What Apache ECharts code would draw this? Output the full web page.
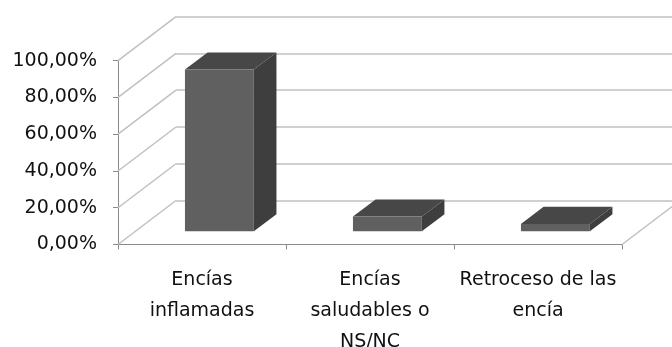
<!DOCTYPE html>
<html>
<head>
<meta charset="utf-8">
<script src="https://cdn.jsdelivr.net/npm/echarts@6/dist/echarts.min.js"></script>
<style>
html,body{margin:0;padding:0;background:#fff;}
#chart{width:672px;height:347px;}
</style>
</head>
<body>
<div id="chart"></div>
<script>
var categories = ['Encías\ninflamadas', 'Encías\nsaludables o\nNS/NC', 'Retroceso de las\nencía'];
var values = [0.88, 0.08, 0.04];
var yTicks = [0, 0.2, 0.4, 0.6, 0.8, 1];
var yTickLabels = ['0,00%', '20,00%', '40,00%', '60,00%', '80,00%', '100,00%'];

// depth vector (style constants)
var DX = 58, DY = -44;
var F0 = 0.30, FD = 0.39, BARW = 0.41;
var GRID_COL = '#c0c0c0';
var AXIS_COL = '#8a8a8a';
var FONT = 'DejaVu Sans';

var chart = echarts.init(document.getElementById('chart'), null, {renderer: 'canvas'});

var front = {left: 118, right: 50, top: 60.7, bottom: 102.5};
var back = {left: front.left + DX, right: front.right - DX, top: front.top + DY, bottom: front.bottom - DY};

var diagData = yTicks.map(function (v) { return [0, v, -1]; });
diagData.push([categories.length - 1, 0, 1]);

function labelFor(v) {
  var i = yTicks.findIndex(function (t) { return Math.abs(t - v) < 1e-9; });
  return i >= 0 ? yTickLabels[i] : '';
}

var option = {
  animation: false,
  backgroundColor: '#ffffff',
  grid: [
    {left: front.left, right: front.right, top: front.top, bottom: front.bottom, containLabel: false, outerBoundsMode: 'none'},
    {left: back.left, right: back.right, top: back.top, bottom: back.bottom, containLabel: false, outerBoundsMode: 'none'}
  ],
  xAxis: [
    {
      type: 'category', gridIndex: 0, data: categories, boundaryGap: true,
      axisLine: {show: true, lineStyle: {color: AXIS_COL, width: 1}},
      axisTick: {show: true, length: 5, alignWithLabel: false, lineStyle: {color: AXIS_COL}},
      axisLabel: {interval: 0, margin: 20, fontFamily: FONT, fontSize: 19, lineHeight: 31, color: '#111'},
      splitLine: {show: false}
    },
    {
      type: 'category', gridIndex: 1, data: categories, show: false
    }
  ],
  yAxis: [
    {
      type: 'value', gridIndex: 0, min: 0, max: 1, interval: 0.2,
      axisLine: {show: true, lineStyle: {color: AXIS_COL, width: 1}},
      axisTick: {show: true, length: 5, lineStyle: {color: AXIS_COL}},
      axisLabel: {margin: 21, fontFamily: FONT, fontSize: 19, color: '#111', padding: [5, 0, 0, 0], formatter: labelFor},
      splitLine: {show: false}
    },
    {
      type: 'value', gridIndex: 1, min: 0, max: 1, interval: 0.2,
      axisLine: {show: false}, axisTick: {show: false}, axisLabel: {show: false},
      splitLine: {show: true, lineStyle: {color: GRID_COL, width: 1.5}}
    }
  ],
  series: [
    {
      type: 'custom', xAxisIndex: 0, yAxisIndex: 0, clip: false, z: 1,
      data: diagData,
      renderItem: function (params, api) {
        var p = api.coord([api.value(0), api.value(1)]);
        var band = api.size([1, 0])[0];
        var x = p[0] + api.value(2) * band / 2;
        return {
          type: 'line',
          shape: {x1: x, y1: p[1], x2: x + DX, y2: p[1] + DY},
          style: {stroke: GRID_COL, lineWidth: 1.5}
        };
      }
    },
    {
      type: 'custom', xAxisIndex: 0, yAxisIndex: 0, clip: false, z: 5,
      data: values.map(function (v, i) { return [i, v]; }),
      renderItem: function (params, api) {
        var top = api.coord([api.value(0), api.value(1)]);
        var base = api.coord([api.value(0), 0]);
        var band = api.size([1, 0])[0];
        var w = band * BARW;
        var x0 = top[0] - w / 2 + F0 * DX;
        var x1 = x0 + w;
        var yt = top[1] + F0 * DY;
        var yb = base[1] + F0 * DY;
        var dx = FD * DX, dy = FD * DY;
        return {
          type: 'group',
          children: [
            {type: 'polygon', shape: {points: [[x1, yt], [x1 + dx, yt + dy], [x1 + dx, yb + dy], [x1, yb]]},
              style: {fill: '#3e3e3e'}},
            {type: 'polygon', shape: {points: [[x0, yt], [x0 + dx, yt + dy], [x1 + dx, yt + dy], [x1, yt]]},
              style: {fill: '#474747'}},
            {type: 'rect', shape: {x: x0, y: yt, width: w, height: yb - yt},
              style: {fill: '#606060'}}
          ]
        };
      }
    }
  ]
};
chart.setOption(option);
</script>
</body>
</html>
